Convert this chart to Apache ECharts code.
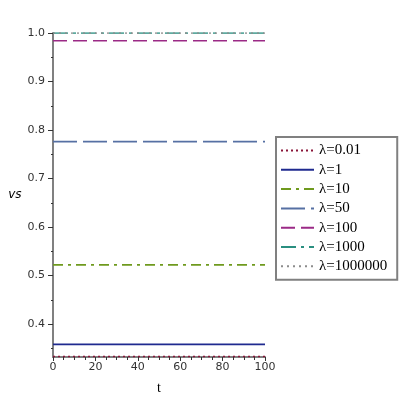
<!DOCTYPE html>
<html>
<head>
<meta charset="utf-8">
<script src="https://cdn.jsdelivr.net/npm/echarts@6/dist/echarts.min.js"></script>
<style>
  html, body { margin: 0; padding: 0; background: #fff; }
  #chart { width: 400px; height: 400px; }
</style>
</head>
<body>
<div id="chart"></div>
<script>
// data
const tValues = [0, 100];
const lambdaNames = ["λ=0.01", "λ=1", "λ=10", "λ=50", "λ=100", "λ=1000", "λ=1000000"];
const vs001 = [0.333, 0.333];
const vs1 = [0.358, 0.358];
const vs10 = [0.522, 0.522];
const vs50 = [0.776, 0.776];
const vs100 = [0.984, 0.984];
const vs1000 = [1.0, 1.0];
const vs1000000 = [1.0, 1.0];
const yMajorTicks = [0.4, 0.5, 0.6, 0.7, 0.8, 0.9, 1.0];
const yMinorTicks = [0.35, 0.45, 0.55, 0.65, 0.75, 0.85, 0.95];

const seriesValues = [vs001, vs1, vs10, vs50, vs100, vs1000, vs1000000];
const colors = ["#8a1538", "#1f2a8f", "#6f9a1e", "#5670a3", "#9b2a86", "#2a8f80", "#8c8c8c"];
const dashes = [[2, 3], "solid", [10, 5, 3, 5], [24, 6], [14, 6], [15, 5, 3, 5], [2, 4]];

const chart = echarts.init(document.getElementById("chart"));

const series = lambdaNames.map(function (name, i) {
  return {
    name: name,
    type: "line",
    showSymbol: false,
    symbol: "none",
    data: tValues.map(function (t, j) { return [t, seriesValues[i][j]]; }),
    lineStyle: { color: colors[i], width: 1.6, type: dashes[i] },
    itemStyle: { color: colors[i] },
    z: 3
  };
});

chart.setOption({
  animation: false,
  textStyle: { fontFamily: "DejaVu Sans" },
  grid: { left: 53, right: 135, top: 33, bottom: 38 },
  legend: {
    data: lambdaNames,
    orient: "vertical",
    left: 276,
    top: 137,
    padding: [6, 10, 6, 4],
    borderColor: "#808080",
    borderWidth: 2,
    borderRadius: 0,
    itemWidth: 33,
    itemHeight: 14,
    itemGap: 4.3,
    itemStyle: { opacity: 0, borderWidth: 0 },
    textStyle: { fontFamily: "Liberation Serif", fontSize: 15, color: "#000" }
  },
  xAxis: {
    type: "value",
    min: 0,
    max: 100,
    interval: 20,
    name: "t",
    nameLocation: "middle",
    nameGap: 24,
    nameTextStyle: { fontFamily: "Liberation Serif", fontSize: 14, color: "#000" },
    axisLine: { lineStyle: { color: "#808080", width: 2 } },
    axisTick: { show: true, length: 4, lineStyle: { color: "#333" } },
    minorTick: { show: true, splitNumber: 4, length: 3, lineStyle: { color: "#333" } },
    axisLabel: { fontSize: 11, color: "#333", margin: 5 },
    splitLine: { show: false }
  },
  yAxis: [{
    type: "value",
    min: 0.332,
    max: 1.0,
    name: "vs",
    nameLocation: "middle",
    nameRotate: 0,
    nameGap: 28,
    nameTextStyle: { fontFamily: "DejaVu Sans", fontStyle: "italic", fontSize: 12, color: "#000" },
    axisLine: { show: true, lineStyle: { color: "#808080", width: 2 } },
    axisTick: { show: true, length: 5, customValues: yMajorTicks, lineStyle: { color: "#333" } },
    axisLabel: {
      fontSize: 11,
      color: "#333",
      margin: 8,
      customValues: yMajorTicks,
      formatter: function (v) { return v.toFixed(1); }
    },
    splitLine: { show: false }
  }, {
    type: "value",
    min: 0.332,
    max: 1.0,
    position: "left",
    axisLine: { show: false },
    axisTick: { show: true, length: 2, customValues: yMinorTicks, lineStyle: { color: "#333" } },
    axisLabel: { show: false, customValues: yMinorTicks },
    splitLine: { show: false }
  }],
  series: series
});
</script>
</body>
</html>
